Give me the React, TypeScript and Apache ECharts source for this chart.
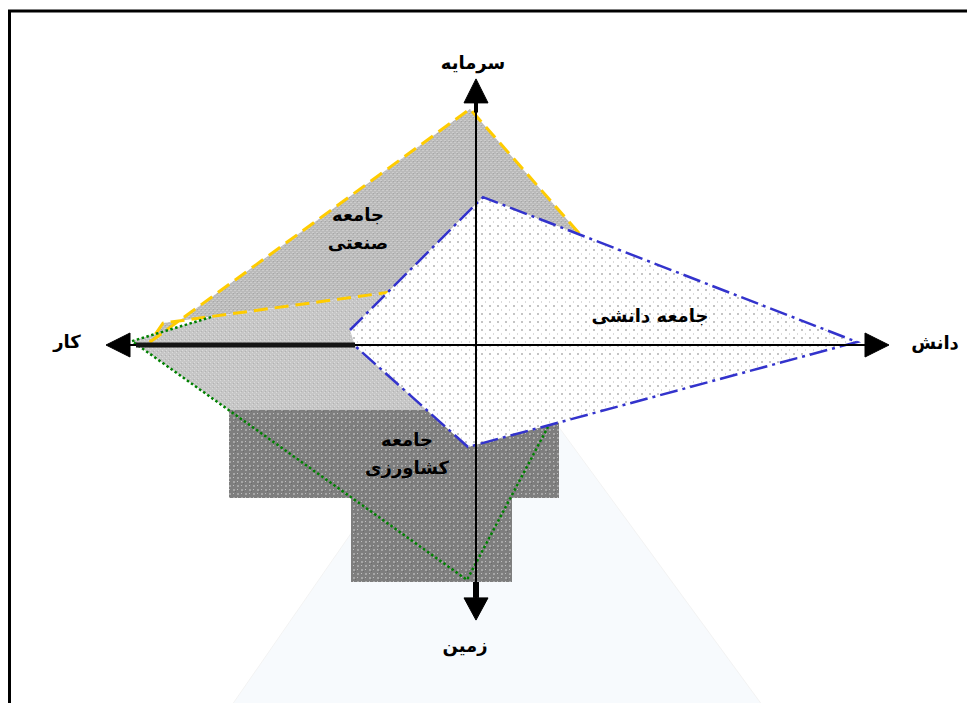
import React, { useEffect, useRef } from "react";
import * as echarts from "echarts";

// ---- data (diagram units: x = labour(-) / knowledge(+), y = land(-) / capital(+)) ----
const backdropTriangle = [[3.5, 4], [-60.75, -119.5], [71.25, -119.5]];
const lightRegion = [[-86, 1.3], [-66.25, 9.3], [-23.25, 17.3], [-1.5, 5], [-1.5, -21.7], [-61.75, -21.7]];
const industrialSociety = [[-81.5, 1], [-1.5, 78.7], [25.5, 37.7], [6, 25], [-23.25, 17.3], [-78.25, 7.3]];
const agrarianBlock = [
  [-61.75, -21.7], [20.75, -21.7], [20.75, -51], [9, -51], [9, -79],
  [-31.25, -79], [-31.25, -51], [-61.75, -51],
];
const agrarianSociety = [[-66.25, 9.3], [-86, 1.3], [-2.25, -78.3], [18, -27.3]];
const knowledgeSociety = [[-31.5, 5], [1.75, 49.3], [95.25, 1], [-2, -34], [-30.25, -0.3]];
const knowledgeOutline = [[-31.5, 5], [1.75, 49.3], [95.25, 1], [-2, -34], [-30.25, -0.3]];

const horizontalAxis = [[-86.5, 0], [97.25, 0]];
const horizontalAxisBold = [[-85, 0], [-30.25, 0]];
const verticalAxis = [[0, 80.7], [0, -84.3]];
const verticalAxisTop = [[0, 81], [0, 77.5]];
const verticalAxisBottom = [[0, -79], [0, -84.3]];
const arrowLeft = [[-92.5, 0], [-86.5, 4], [-86.5, -4]];
const arrowRight = [[103.25, 0], [97.25, 4], [97.25, -4]];
const arrowTop = [[0, 88.7], [-3, 80.7], [3, 80.7]];
const arrowBottom = [[0, -91.7], [-3, -84.3], [3, -84.3]];

const axisLabels = ["سرمایه", "کار", "دانش", "زمین"];
const axisLabelPositions = [[-0.75, 94.3], [-102.25, 1.3], [114.75, 0.7], [-2.75, -100]];
const societyLabels = ["جامعه\nصنعتی", "جامعه دانشی", "جامعه\nکشاورزی"];
const societyLabelPositions = [[-29.5, 39], [43.5, 10], [-17.25, -36.3]];

function makePattern(size: number, base: string, marks: [number, number, number, number, string][]) {
  const c = document.createElement("canvas");
  c.width = size;
  c.height = size;
  const ctx = c.getContext("2d")!;
  ctx.fillStyle = base;
  ctx.fillRect(0, 0, size, size);
  marks.forEach(([x, y, w, h, col]) => {
    ctx.fillStyle = col;
    ctx.fillRect(x, y, w, h);
  });
  return { image: c, repeat: "repeat" } as any;
}

function shapeSeries(pts: number[][], style: any, z: number, kind: "polygon" | "polyline" = "polygon") {
  return {
    type: "custom",
    coordinateSystem: "cartesian2d",
    data: pts,
    z,
    silent: true,
    clip: false,
    renderItem: (params: any, api: any) => {
      if (params.dataIndex !== 0) return null;
      const points = pts.map((p) => api.coord(p));
      return { type: kind, shape: { points }, style };
    },
  };
}

function textSeries(labels: string[], positions: number[][], fontSize: number, z: number) {
  return {
    type: "custom",
    coordinateSystem: "cartesian2d",
    data: positions,
    z,
    silent: true,
    clip: false,
    renderItem: (params: any, api: any) => {
      const [x, y] = api.coord(positions[params.dataIndex]);
      return {
        type: "text",
        x,
        y,
        style: {
          text: labels[params.dataIndex],
          fill: "#000",
          fontSize,
          fontWeight: "bold",
          fontFamily: "DejaVu Sans",
          align: "center",
          verticalAlign: "middle",
          lineHeight: 28,
        },
      };
    },
  };
}

export default function App() {
  const ref = useRef<HTMLDivElement>(null);
  useEffect(() => {
    if (!ref.current) return;
    const chart = echarts.init(ref.current, undefined, { renderer: "svg" });

    const lightFill = makePattern(4, "#c6c6c6", [
      [0, 0, 1, 1, "#dadada"], [2, 2, 1, 1, "#dadada"], [1, 3, 1, 1, "#b2b2b2"],
    ]);
    const industrialFill = makePattern(4, "#bababa", [
      [0, 0, 2, 1, "#cccccc"], [2, 2, 2, 1, "#cccccc"], [1, 1, 1, 1, "#a6a6a6"],
    ]);
    const darkFill = makePattern(8, "#7e7e7e", [
      [1, 1, 2, 2, "#a6a6a6"], [5, 5, 2, 2, "#a6a6a6"], [5, 1, 1, 1, "#c0c0c0"],
      [1, 5, 1, 1, "#c0c0c0"], [3, 3, 1, 1, "#6c6c6c"],
    ]);
    const knowledgeFill = makePattern(8, "#ffffff", [
      [1, 1, 2, 2, "#c4c4c4"], [5, 5, 1, 2, "#dadada"],
    ]);

    const black = { fill: "#000", stroke: "#000", lineWidth: 1 };

    chart.setOption({
      animation: false,
      backgroundColor: "#ffffff",
      grid: { left: 36, right: 51, top: 45, bottom: 58 },
      xAxis: { type: "value", min: -110, max: 110, show: false },
      yAxis: { type: "value", min: -100, max: 100, show: false },
      graphic: [
        {
          type: "rect",
          shape: { x: 9.5, y: 11, width: 1000, height: 760 },
          style: { fill: "transparent", stroke: "#000", lineWidth: 3 },
          z: 100,
          silent: true,
        },
      ],
      series: [
        shapeSeries(backdropTriangle, { fill: "#f7fafd", stroke: "#f3f3f3", lineWidth: 1 }, 1),
        shapeSeries(lightRegion, { fill: lightFill }, 2),
        shapeSeries(industrialSociety, {
          fill: industrialFill, stroke: "#ffcc00", lineWidth: 3, lineDash: [14, 7],
        }, 3),
        shapeSeries(agrarianBlock, { fill: darkFill }, 4),
        shapeSeries(agrarianSociety, {
          fill: null, stroke: "#008000", lineWidth: 2.5, lineDash: [2.5, 2.5],
        }, 5, "polyline"),
        shapeSeries(knowledgeSociety, { fill: knowledgeFill }, 6),
        shapeSeries(knowledgeOutline, {
          fill: null, stroke: "#3333cc", lineWidth: 2.5, lineDash: [18, 5, 3, 5],
        }, 7, "polyline"),
        shapeSeries(horizontalAxis, { fill: null, stroke: "#000", lineWidth: 2 }, 8, "polyline"),
        shapeSeries(horizontalAxisBold, { fill: null, stroke: "#151515", lineWidth: 5 }, 8, "polyline"),
        shapeSeries(verticalAxis, { fill: null, stroke: "#000", lineWidth: 2 }, 8, "polyline"),
        shapeSeries(verticalAxisTop, { fill: null, stroke: "#000", lineWidth: 4 }, 8, "polyline"),
        shapeSeries(verticalAxisBottom, { fill: null, stroke: "#000", lineWidth: 6 }, 8, "polyline"),
        shapeSeries(arrowLeft, black, 9),
        shapeSeries(arrowRight, black, 9),
        shapeSeries(arrowTop, black, 9),
        shapeSeries(arrowBottom, black, 9),
        textSeries(axisLabels, axisLabelPositions, 18, 10),
        textSeries(societyLabels, societyLabelPositions, 18, 10),
      ],
    });
    return () => chart.dispose();
  }, []);
  return (
    <div
      ref={ref}
      style={{ position: "fixed", left: 0, top: 0, width: 967, height: 703 }}
    />
  );
}
